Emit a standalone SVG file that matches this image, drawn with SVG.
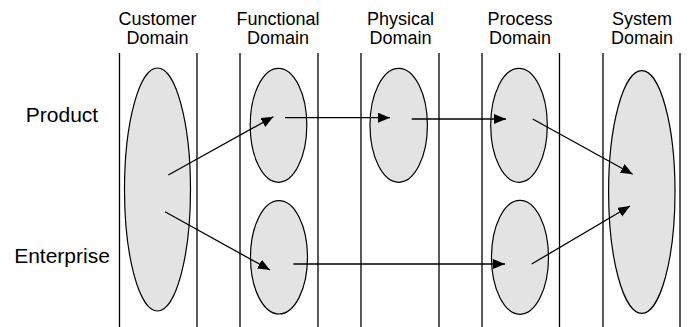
<svg xmlns="http://www.w3.org/2000/svg" width="689" height="327" viewBox="0 0 689 327">
<style>
text{font-family:"Liberation Sans",Arial,sans-serif;fill:#000}
.h{font-size:18px;text-anchor:middle}
.r{font-size:21px;text-anchor:middle}
.lane{stroke:#000;stroke-width:1.3}
.el{fill:#e3e3e3;stroke:#000;stroke-width:1.2}
.c{stroke:#000;stroke-width:1.3;fill:none;marker-end:url(#ah)}
</style>
<defs>
<marker id="ah" markerUnits="userSpaceOnUse" markerWidth="13" markerHeight="11" refX="12" refY="5" orient="auto">
<path d="M0,0 L12,5 L0,10 Z" fill="#000"/>
</marker>
</defs>
<rect width="689" height="327" fill="#fff"/>
<g id="headers">
<text class="h" x="157.5" y="25">Customer</text><text class="h" x="157.5" y="44">Domain</text>
<text class="h" x="278" y="25">Functional</text><text class="h" x="278" y="44">Domain</text>
<text class="h" x="400.5" y="25">Physical</text><text class="h" x="400.5" y="44">Domain</text>
<text class="h" x="520" y="25">Process</text><text class="h" x="520" y="44">Domain</text>
<text class="h" x="642" y="25">System</text><text class="h" x="642" y="44">Domain</text>
</g>
<g id="rows">
<text class="r" x="62" y="122">Product</text>
<text class="r" x="62" y="263">Enterprise</text>
</g>
<g id="lanes">
<line class="lane" x1="119.5" y1="53" x2="119.5" y2="327"/>
<line class="lane" x1="197" y1="53" x2="197" y2="327"/>
<line class="lane" x1="240" y1="53" x2="240" y2="327"/>
<line class="lane" x1="318" y1="53" x2="318" y2="327"/>
<line class="lane" x1="361" y1="53" x2="361" y2="327"/>
<line class="lane" x1="439" y1="53" x2="439" y2="327"/>
<line class="lane" x1="482" y1="53" x2="482" y2="327"/>
<line class="lane" x1="559.5" y1="53" x2="559.5" y2="327"/>
<line class="lane" x1="603" y1="53" x2="603" y2="327"/>
<line class="lane" x1="680" y1="53" x2="680" y2="327"/>
</g>
<g id="customer"><ellipse class="el" cx="157.5" cy="189.5" rx="33" ry="121.5"/></g>
<g id="functional-product"><ellipse class="el" cx="278.5" cy="125.3" rx="28.3" ry="57"/></g>
<g id="functional-enterprise"><ellipse class="el" cx="279" cy="257.3" rx="28.5" ry="56.7"/></g>
<g id="physical-product"><ellipse class="el" cx="398.7" cy="125.3" rx="28.7" ry="57"/></g>
<g id="process-product"><ellipse class="el" cx="519" cy="125.3" rx="28.3" ry="57"/></g>
<g id="process-enterprise"><ellipse class="el" cx="520" cy="257.3" rx="28.5" ry="57"/></g>
<g id="system"><ellipse class="el" cx="641.8" cy="192" rx="33.2" ry="121.3"/></g>
<g id="connectors">
<line class="c" x1="168.3" y1="175" x2="273.3" y2="116.7"/>
<line class="c" x1="165" y1="211.7" x2="270" y2="270"/>
<line class="c" x1="285" y1="117.7" x2="390" y2="117.7"/>
<line class="c" x1="411.7" y1="119" x2="506" y2="119"/>
<line class="c" x1="293.3" y1="264" x2="505" y2="264"/>
<line class="c" x1="532.7" y1="119" x2="632.7" y2="174.3"/>
<line class="c" x1="531.7" y1="264" x2="630" y2="206"/>
</g>
</svg>
